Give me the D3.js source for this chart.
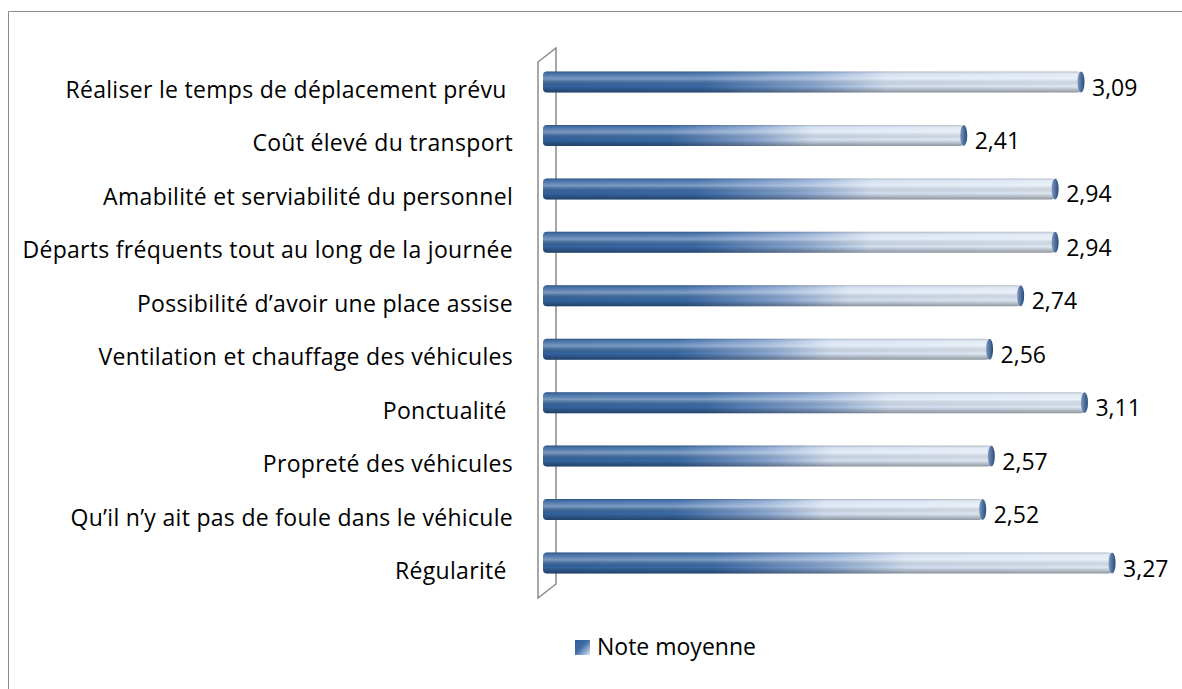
<!DOCTYPE html>
<html>
<head>
<meta charset="utf-8">
<script src="https://cdn.jsdelivr.net/npm/d3@7"></script>
<style>
  body { margin: 0; background: #fff; }
  svg { display: block; }
  text { font-family: "Open Sans", Lato, sans-serif; fill: #000; white-space: pre; }
</style>
</head>
<body>
<div id="chart"></div>
<script>
const categories = [
  "Réaliser le temps de déplacement prévu ",
  "Coût élevé du transport",
  "Amabilité et serviabilité du personnel",
  "Départs fréquents tout au long de la journée",
  "Possibilité d’avoir une place assise",
  "Ventilation et chauffage des véhicules",
  "Ponctualité ",
  "Propreté des véhicules",
  "Qu’il n’y ait pas de foule dans le véhicule",
  "Régularité "
];
const values = [3.09, 2.41, 2.94, 2.94, 2.74, 2.56, 3.11, 2.57, 2.52, 3.27];
const seriesName = "Note moyenne";

const width = 1182, height = 689;
const svg = d3.select("#chart").append("svg")
  .attr("width", width)
  .attr("height", height);

const defs = svg.append("defs");

// horizontal colour gradient along each bar
const hGrad = defs.append("linearGradient")
  .attr("id", "barFill")
  .attr("x1", "0%").attr("x2", "100%").attr("y1", "0%").attr("y2", "0%");
hGrad.append("stop").attr("offset", "0%").attr("stop-color", "#33629d");
hGrad.append("stop").attr("offset", "30%").attr("stop-color", "#3a6aa6");
hGrad.append("stop").attr("offset", "50%").attr("stop-color", "#88a6d1");
hGrad.append("stop").attr("offset", "64%").attr("stop-color", "#d3e0f1");
hGrad.append("stop").attr("offset", "100%").attr("stop-color", "#dfe8f4");

// vertical shading to make it look like a cylinder
const vGrad = defs.append("linearGradient")
  .attr("id", "barShade")
  .attr("x1", "0%").attr("x2", "0%").attr("y1", "0%").attr("y2", "100%");
vGrad.append("stop").attr("offset", "0%").attr("stop-color", "#000").attr("stop-opacity", 0.2);
vGrad.append("stop").attr("offset", "12%").attr("stop-color", "#fff").attr("stop-opacity", 0.1);
vGrad.append("stop").attr("offset", "35%").attr("stop-color", "#fff").attr("stop-opacity", 0.35);
vGrad.append("stop").attr("offset", "70%").attr("stop-color", "#000").attr("stop-opacity", 0.0);
vGrad.append("stop").attr("offset", "100%").attr("stop-color", "#000").attr("stop-opacity", 0.35);

const capGrad = defs.append("linearGradient")
  .attr("id", "capFill")
  .attr("x1", "0%").attr("x2", "100%").attr("y1", "0%").attr("y2", "0%");
capGrad.append("stop").attr("offset", "0%").attr("stop-color", "#7b98c2");
capGrad.append("stop").attr("offset", "100%").attr("stop-color", "#274a79");

const legGrad = defs.append("linearGradient")
  .attr("id", "legFill")
  .attr("x1", "0%").attr("x2", "100%").attr("y1", "0%").attr("y2", "100%");
legGrad.append("stop").attr("offset", "0%").attr("stop-color", "#2e5c94");
legGrad.append("stop").attr("offset", "45%").attr("stop-color", "#3f6ca6");
legGrad.append("stop").attr("offset", "100%").attr("stop-color", "#dbe5f2");

// outer chart border (left and top visible)
svg.append("path")
  .attr("d", "M8.5,689 V11.5 H1182")
  .attr("fill", "none")
  .attr("stroke", "#8c8c8c")
  .attr("stroke-width", 1);

const x = d3.scaleLinear().domain([0, 3.5]).range([548, 548 + 3.5 * 172.5]);
const y = d3.scalePoint().domain(categories).range([82, 563]);
const barH = 21;

// 3D axis wall
svg.append("path")
  .attr("d", "M538,62 L556,48 L556,584 L538,598 Z")
  .attr("fill", "none")
  .attr("stroke", "#8a8a8a")
  .attr("stroke-width", 1.5);

const bars = svg.selectAll(".bar")
  .data(values)
  .enter()
  .append("g")
  .attr("class", "bar");

bars.append("rect")
  .attr("x", 543)
  .attr("y", (d, i) => y(categories[i]) - barH / 2)
  .attr("width", d => x(d) - 543)
  .attr("height", barH)
  .attr("rx", 4)
  .attr("fill", "url(#barFill)");

bars.append("rect")
  .attr("x", 543)
  .attr("y", (d, i) => y(categories[i]) - barH / 2)
  .attr("width", d => x(d) - 543)
  .attr("height", barH)
  .attr("rx", 4)
  .attr("fill", "url(#barShade)");

bars.append("ellipse")
  .attr("cx", d => x(d))
  .attr("cy", (d, i) => y(categories[i]))
  .attr("rx", 3.5)
  .attr("ry", barH / 2)
  .attr("fill", "url(#capFill)");

// value labels
svg.selectAll(".val")
  .data(values)
  .enter()
  .append("text")
  .attr("class", "val")
  .attr("x", d => x(d) + 11)
  .attr("y", (d, i) => y(categories[i]) + 5.5)
  .attr("dy", "0.35em")
  .style("font-size", "23px")
  .text(d => d.toFixed(2).replace(".", ","));

// category labels
svg.selectAll(".cat")
  .data(categories)
  .enter()
  .append("text")
  .attr("class", "cat")
  .attr("x", 513)
  .attr("y", d => y(d) + 8)
  .attr("dy", "0.35em")
  .attr("text-anchor", "end")
  .style("font-size", "23px")
  .style("letter-spacing", "0.3px")
  .text(d => d);

// legend
svg.append("rect")
  .attr("x", 575)
  .attr("y", 640)
  .attr("width", 15)
  .attr("height", 15)
  .attr("fill", "url(#legFill)");

svg.append("text")
  .attr("x", 597)
  .attr("y", 647)
  .attr("dy", "0.35em")
  .style("font-size", "23px")
  .text(seriesName);
</script>
</body>
</html>
